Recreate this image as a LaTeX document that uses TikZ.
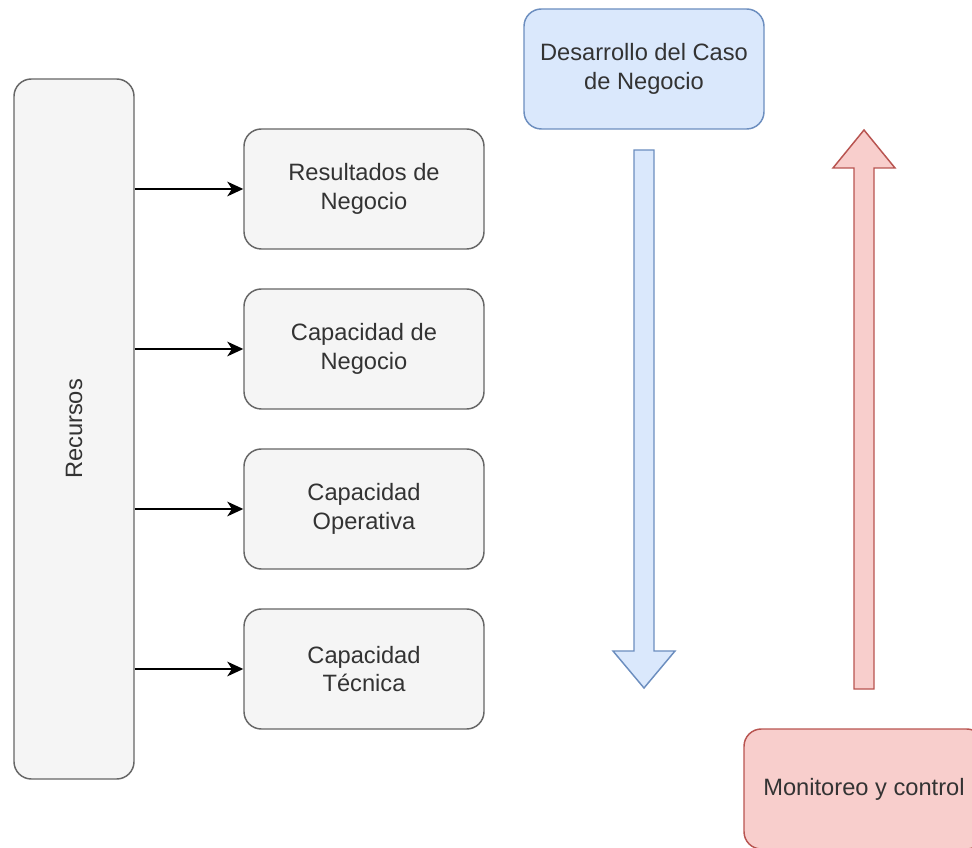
\documentclass[tikz,border=0pt]{standalone}
\usepackage{fontspec}
\setmainfont{Liberation Sans}
\usetikzlibrary{arrows.meta}
\definecolor{grayfill}{HTML}{F5F5F5}
\definecolor{graystroke}{HTML}{666666}
\definecolor{textgray}{HTML}{333333}
\definecolor{bluefill}{HTML}{DAE8FC}
\definecolor{bluestroke}{HTML}{6C8EBF}
\definecolor{redfill}{HTML}{F8CECC}
\definecolor{redstroke}{HTML}{B85450}
\tikzset{
  labelfont/.style={font=\fontsize{17.75}{21.5}\selectfont},
  box/.style={draw=graystroke, fill=grayfill, line width=1.1pt, rounded corners=13pt,
    text=textgray, align=center, inner sep=0pt, labelfont},
  stepbox/.style={box, minimum width=180pt, minimum height=90pt},
  bluebox/.style={box, draw=bluestroke, fill=bluefill},
  redbox/.style={box, draw=redstroke, fill=redfill},
  link/.style={line width=1.3pt, -{Stealth[length=12pt, width=11pt, inset=3.5pt]}},
  bluearrow/.style={draw=bluestroke, fill=bluefill, line width=1.1pt, line join=miter},
  redarrow/.style={draw=redstroke, fill=redfill, line width=1.1pt, line join=miter}
}
\begin{document}
\begin{tikzpicture}[x=0.75pt, y=-0.75pt]
  \useasboundingbox (0,0) rectangle (972,848);
  \clip (0,0) rectangle (972,848);

  % resources column
  \node[box, minimum width=90pt, minimum height=525pt] (rec) at (74,429) {};
  \node[rotate=90, text=textgray, labelfont] (reclabel) at (rec.center) {Recursos};

  % capability boxes
  \node[stepbox] (res) at (364,189) {Resultados de\\Negocio};
  \node[stepbox] (cneg) at (364,349) {Capacidad de\\Negocio};
  \node[stepbox] (cop) at (364,509) {Capacidad\\Operativa};
  \node[stepbox] (ctec) at (364,669) {Capacidad\\Técnica};

  \foreach \t in {res,cneg,cop,ctec}
    \draw[link] (rec.east |- \t.west) -- (\t.west);

  % business case and monitoring
  \node[bluebox, minimum width=180pt, minimum height=90pt] (caso) at (644,69) {Desarrollo del Caso\\de Negocio};
  \node[redbox, minimum width=180pt, minimum height=90pt] (mon) at (864,789) {Monitoreo y control};

  % downward block arrow
  \draw[bluearrow] (634,150) -- (654,150) -- (654,651) -- (675,651) -- (644,688)
    -- (613,651) -- (634,651) -- cycle;
  % upward block arrow
  \draw[redarrow] (854,689) -- (874,689) -- (874,168) -- (895,168) -- (864,130)
    -- (833,168) -- (854,168) -- cycle;
\end{tikzpicture}
\end{document}
